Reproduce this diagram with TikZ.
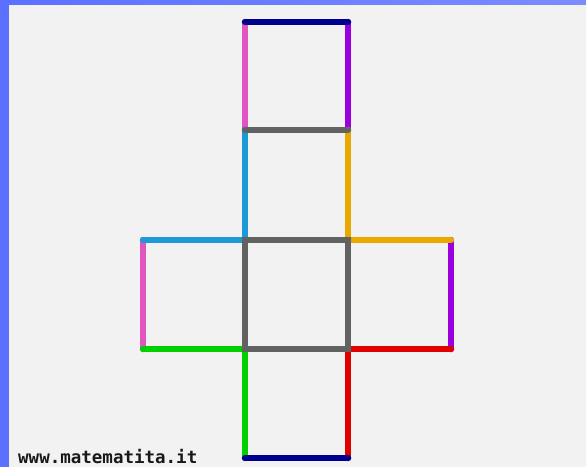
\documentclass[tikz,border=0pt]{standalone}
\usepackage{fontspec}
\newfontfamily\monofont{DejaVu Sans Mono}
\definecolor{frameblue}{HTML}{5B70FF}
\definecolor{frameblueR}{HTML}{7B8CFF}
\definecolor{bggray}{HTML}{F2F2F2}
\definecolor{enavy}{HTML}{00008F}
\definecolor{epink}{HTML}{E055C0}
\definecolor{epurple}{HTML}{9A00DD}
\definecolor{egray}{HTML}{626262}
\definecolor{ecyan}{HTML}{1C9AD8}
\definecolor{eorange}{HTML}{E8A800}
\definecolor{egreen}{HTML}{00D000}
\definecolor{ered}{HTML}{E00000}
\begin{document}
\begin{tikzpicture}[x=1pt,y=-1pt,
  edge/.style={line width=6.5pt,line cap=round}]
\useasboundingbox (0,0) rectangle (586,467);
\fill[frameblue] (0,0) rectangle (9,467);
\shade[left color=frameblue,right color=frameblueR] (0,0) rectangle (586,5);
\fill[bggray] (9,5) rectangle (586,467);
% grid points
\foreach \i/\x in {0/143,1/245,2/348,3/451}
  \foreach \j/\y in {0/22,1/130,2/240,3/349,4/458}
    \coordinate (p\i\j) at (\x,\y);
% top square
\draw[edge,epink] (p10) -- (p11);
\draw[edge,epurple] (p20) -- (p21);
\draw[edge,enavy] (p10) -- (p20);
% second square
\draw[edge,ecyan] (p11) -- (p12);
\draw[edge,eorange] (p21) -- (p22);
\draw[edge,egray] (p11) -- (p21);
% left square
\draw[edge,epink] (p02) -- (p03);
\draw[edge,ecyan] (p02) -- (p12);
\draw[edge,egreen] (p03) -- (p13);
% right square
\draw[edge,epurple] (p32) -- (p33);
\draw[edge,eorange] (p22) -- (p32);
\draw[edge,ered] (p23) -- (p33);
% bottom square
\draw[edge,egreen] (p13) -- (p14);
\draw[edge,ered] (p23) -- (p24);
\draw[edge,enavy] (p14) -- (p24);
% center square
\draw[edge,egray] (p12) -- (p22) -- (p23) -- (p13) -- cycle;
\node[anchor=base west,inner sep=0pt,text=black!90,font=\monofont\bfseries\fontsize{17.5}{19}\selectfont] (url) at (18,463) {www.matematita.it};
\end{tikzpicture}
\end{document}
